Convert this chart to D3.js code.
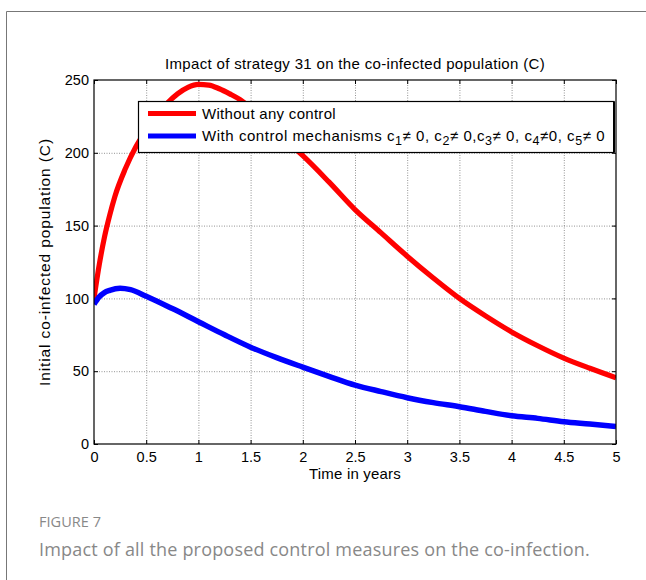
<!DOCTYPE html>
<html><head><meta charset="utf-8">
<script src="https://cdn.jsdelivr.net/npm/d3@7"></script>
<style>body{margin:0;background:#fff}svg{display:block}</style>
</head><body>
<script>
const timeRed = [0,0.05,0.1,0.15,0.2,0.3,0.4,0.5,0.6,0.7,0.8,0.9,1.0,1.1,1.2,1.3,1.4,1.5,1.6,1.7,1.8,1.9,2.0,2.25,2.5,2.75,3.0,3.25,3.5,3.75,4.0,4.25,4.5,4.75,5.0];
const withoutControl = [100,123,142,157,170,189,204,215.5,226,234,240.5,245,247,246.5,244,240.5,236.5,231,225,218,211,204.5,198,180,161,145,129,114,100,88,77,67.5,59,52,45.5];
const timeBlue = [0,0.05,0.1,0.15,0.25,0.35,0.5,0.75,1.0,1.25,1.5,1.75,2.0,2.25,2.5,2.75,3.0,3.25,3.5,3.75,4.0,4.25,4.5,4.75,5.0];
const withControl = [96,101,104,105.5,107,106,101.5,93,84,75,66.5,59.3,52.8,46.5,40.5,36,31.8,28.4,25.6,22.4,19.4,17.6,15.3,13.7,12];
const xTicks = [0,0.5,1,1.5,2,2.5,3,3.5,4,4.5,5];
const yTicks = [0,50,100,150,200,250];
const xTickLabels = ["0","0.5","1","1.5","2","2.5","3","3.5","4","4.5","5"];
const yTickLabels = ["0","50","100","150","200","250"];

const W = 646, H = 580;
const svg = d3.select("body").append("svg").attr("width", W).attr("height", H);
const fontA = "Liberation Sans, Arial, sans-serif";

function fit(sel, target){
  const node = sel.node();
  const len = node.getComputedTextLength();
  const n = node.textContent.length;
  if (n > 1) sel.attr("letter-spacing", ((target - len) / n).toFixed(2));
  return sel;
}

svg.append("path").attr("d", `M6.5,${H} L6.5,11.5 L${W},11.5`).attr("fill","none").attr("stroke","#777").attr("stroke-width",1);

const x = d3.scaleLinear().domain([0,5]).range([94,616]);
const y = d3.scaleLinear().domain([0,250]).range([444,80]);

const grid = svg.append("g").attr("stroke","#777").attr("stroke-width",0.8).attr("stroke-dasharray","1,1.5");
grid.selectAll(".gx").data(xTicks.slice(1,-1)).join("line")
  .attr("x1",d=>x(d)+0.5).attr("x2",d=>x(d)+0.5).attr("y1",y(250)).attr("y2",y(0));
grid.selectAll(".gy").data(yTicks.slice(1,-1)).join("line")
  .attr("y1",d=>y(d)+0.5).attr("y2",d=>y(d)+0.5).attr("x1",x(0)).attr("x2",x(5));

const tickStyle = g => { g.select(".domain").remove(); g.selectAll("line").attr("stroke","#000"); };
svg.append("g").attr("transform",`translate(0,${y(0)})`)
  .call(d3.axisBottom(x).tickValues(xTicks).tickFormat((d,i)=>xTickLabels[i]).tickSizeInner(-4).tickSizeOuter(0).tickPadding(8))
  .call(tickStyle).call(g=>g.selectAll("text").attr("font-family",fontA).attr("font-size",14.5).attr("fill","#000"));
svg.append("g").attr("transform",`translate(0,${y(250)})`)
  .call(d3.axisTop(x).tickValues(xTicks).tickFormat("").tickSizeInner(-4).tickSizeOuter(0))
  .call(tickStyle);
svg.append("g").attr("transform",`translate(${x(0)},0)`)
  .call(d3.axisLeft(y).tickValues(yTicks).tickFormat((d,i)=>yTickLabels[i]).tickSizeInner(-4).tickSizeOuter(0).tickPadding(5))
  .call(tickStyle).call(g=>g.selectAll("text").attr("font-family",fontA).attr("font-size",14.5).attr("fill","#000"));
svg.append("g").attr("transform",`translate(${x(5)},0)`)
  .call(d3.axisRight(y).tickValues(yTicks).tickFormat("").tickSizeInner(-4).tickSizeOuter(0))
  .call(tickStyle);

const lineGen = d3.line().curve(d3.curveMonotoneX);
svg.append("clipPath").attr("id","clp").append("rect")
  .attr("x",x(0)).attr("y",y(250)).attr("width",x(5)-x(0)).attr("height",y(0)-y(250));
svg.append("path").datum(timeRed.map((t,i)=>[x(t),y(withoutControl[i])]))
  .attr("d",lineGen).attr("fill","none").attr("stroke","#ff0000").attr("stroke-width",5.2).attr("clip-path","url(#clp)");
svg.append("path").datum(timeBlue.map((t,i)=>[x(t),y(withControl[i])]))
  .attr("d",lineGen).attr("fill","none").attr("stroke","#0000ff").attr("stroke-width",5.5).attr("clip-path","url(#clp)");

svg.append("rect").attr("x",x(0)).attr("y",y(250)).attr("width",x(5)-x(0)).attr("height",y(0)-y(250))
  .attr("fill","none").attr("stroke","#000").attr("stroke-width",1.2);

fit(svg.append("text").attr("x",(x(0)+x(5))/2).attr("y",68.5).attr("text-anchor","middle")
  .attr("font-family",fontA).attr("font-size",15).text("Impact of strategy 31 on the co-infected population (C)"), 380);
fit(svg.append("text").attr("x",(x(0)+x(5))/2).attr("y",479).attr("text-anchor","middle")
  .attr("font-family",fontA).attr("font-size",15).text("Time in years"), 92);
fit(svg.append("text").attr("transform",`translate(50,${(y(0)+y(250))/2}) rotate(-90)`).attr("text-anchor","middle")
  .attr("font-family",fontA).attr("font-size",15.5).text("Initial co-infected population (C)"), 248);

const lg = svg.append("g");
lg.append("rect").attr("x",138.5).attr("y",101.5).attr("width",475.5).attr("height",51).attr("fill","#fff").attr("stroke","#000").attr("stroke-width",1.2);
lg.append("line").attr("x1",614).attr("x2",614).attr("y1",101.5).attr("y2",152.5).attr("stroke","#000").attr("stroke-width",2);
lg.append("line").attr("x1",148).attr("x2",196).attr("y1",113.5).attr("y2",113.5).attr("stroke","#ff0000").attr("stroke-width",5);
lg.append("line").attr("x1",148).attr("x2",196).attr("y1",136).attr("y2",136).attr("stroke","#0000ff").attr("stroke-width",5);
fit(lg.append("text").attr("x",202).attr("y",118.5).attr("font-family",fontA).attr("font-size",15).text("Without any control"), 134);
const t2 = lg.append("text").attr("x",202).attr("y",141).attr("font-family",fontA).attr("font-size",15);
const parts = [["With control mechanisms c",0],["1",1],["\u2260 0, c",0],["2",1],["\u2260 0,c",0],["3",1],["\u2260 0, c",0],["4",1],["\u22600, c",0],["5",1],["\u2260 0",0]];
parts.forEach(([s,sub],i)=>{
  const ts = t2.append("tspan").text(s);
  if(sub) ts.attr("dy",4).attr("font-size",12.5);
  else if(i>0) ts.attr("dy",-4);
});
fit(t2, 403);

fit(svg.append("text").attr("x",39).attr("y",527).attr("font-family","Open Sans, sans-serif").attr("font-size",14.5).attr("fill","#888").text("FIGURE 7"), 62);
fit(svg.append("text").attr("x",39).attr("y",556).attr("font-family","Open Sans, sans-serif").attr("font-size",18).attr("fill","#888").text("Impact of all the proposed control measures on the co-infection."), 551);
</script>
</body></html>
